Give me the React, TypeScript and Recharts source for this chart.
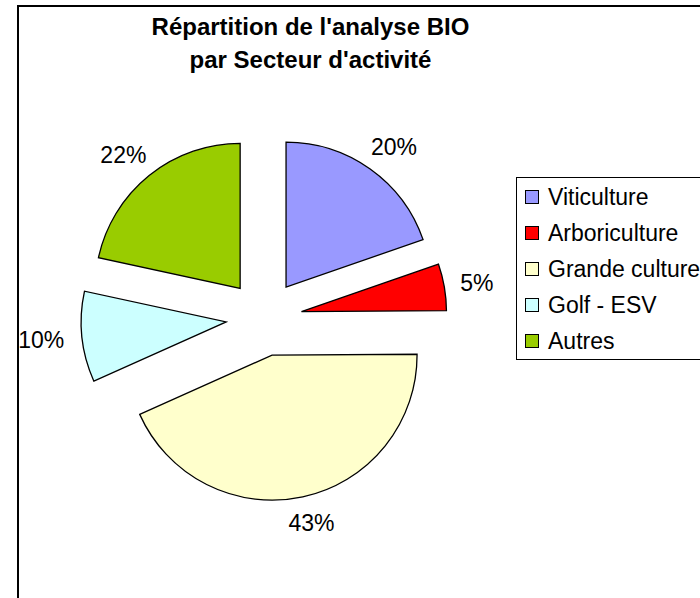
import { PieChart, Pie, Sector } from "recharts";

// Répartition de l'analyse BIO par secteur — camembert éclaté façon Excel

const CATEGORIES = ["Viticulture", "Arboriculture", "Grande culture", "Golf - ESV", "Autres"];
const SHARES = [19.7, 5.2, 43.4, 10.1, 21.6];
const COLORS = ["#9999FF", "#FF0000", "#FFFFCC", "#CCFFFF", "#99CC00"];
const TITLE = ["Répartition de l'analyse BIO", "par Secteur d'activité"];

const FONT = '"Liberation Sans", Arial, Helvetica, sans-serif';
const RAD = Math.PI / 180;
const EXPLODE = 38;

const data = CATEGORIES.map((name, i) => ({ name, value: SHARES[i] }));

// each slice is drawn here, pushed out along its mid angle, with its % label
function ExplodedSlice(props: any) {
  const { cx, cy, innerRadius, outerRadius, startAngle, endAngle, midAngle, percent, index } = props;
  const cos = Math.cos(-midAngle * RAD);
  const sin = Math.sin(-midAngle * RAD);
  const sx = cx + EXPLODE * cos;
  const sy = cy + EXPLODE * sin;
  const text = `${Math.round(percent * 100)}%`;
  const w = text.length * 16;
  const h = 20;
  const r = outerRadius + 17;
  const tx = sx + r * cos + (w / 2) * cos;
  const ty = sy + r * sin + (h / 2) * sin;
  return (
    <g>
      <Sector
        cx={sx}
        cy={sy}
        innerRadius={innerRadius}
        outerRadius={outerRadius}
        startAngle={startAngle}
        endAngle={endAngle}
        fill={COLORS[index]}
        stroke="#000"
        strokeWidth={1.3}
      />
      <text
        x={tx}
        y={ty}
        textAnchor="middle"
        dominantBaseline="central"
        fontFamily={FONT}
        fontSize={23}
        fill="#000"
      >
        {text}
      </text>
    </g>
  );
}

export default function App() {
  return (
    <div
      style={{
        position: "absolute",
        left: 0,
        top: 0,
        width: 700,
        height: 598,
        overflow: "hidden",
        background: "#fff",
        fontFamily: FONT,
      }}
    >
      <div
        style={{
          position: "absolute",
          left: 17,
          top: 5,
          width: 740,
          height: 660,
          border: "2px solid #000",
        }}
      />
      <div
        style={{
          position: "absolute",
          left: 10,
          top: 10,
          width: 601,
          textAlign: "center",
          fontWeight: "bold",
          fontSize: 24,
          lineHeight: "33px",
          color: "#000",
        }}
      >
        {TITLE.map((t) => (
          <div key={t}>{t}</div>
        ))}
      </div>

      <div style={{ position: "absolute", left: 0, top: 0 }}>
        <PieChart width={700} height={598} margin={{ top: 0, right: 0, bottom: 0, left: 0 }}>
          <Pie
            data={data}
            dataKey="value"
            nameKey="name"
            cx={264}
            cy={318}
            innerRadius={0}
            outerRadius={145}
            startAngle={90}
            endAngle={-270}
            fill="none"
            stroke="none"
            labelLine={false}
            label={ExplodedSlice}
            isAnimationActive={false}
          />
        </PieChart>
      </div>

      <div
        style={{
          position: "absolute",
          left: 516,
          top: 177,
          width: 210,
          border: "1px solid #000",
          paddingTop: 1,
          background: "#fff",
        }}
      >
        {CATEGORIES.map((c, i) => (
          <div key={c} style={{ display: "flex", alignItems: "center", height: 36, paddingLeft: 8 }}>
            <span
              style={{
                display: "inline-block",
                width: 12,
                height: 12,
                border: "1px solid #000",
                background: COLORS[i],
                marginRight: 9,
              }}
            />
            <span style={{ fontSize: 23, whiteSpace: "nowrap" }}>{c}</span>
          </div>
        ))}
      </div>
    </div>
  );
}
